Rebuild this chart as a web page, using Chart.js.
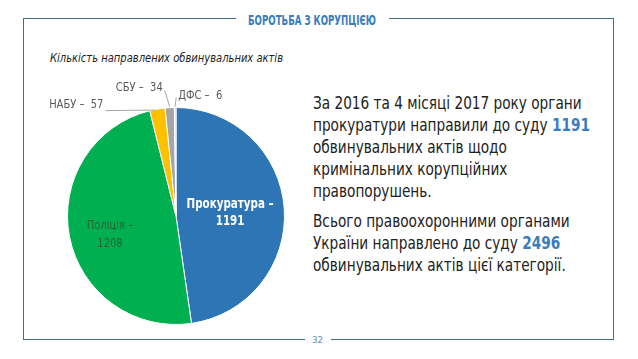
<!DOCTYPE html>
<html>
<head>
<meta charset="utf-8">
<script src="https://cdn.jsdelivr.net/npm/chart.js@4.4.0/dist/chart.umd.min.js"></script>
<style>
  html,body{margin:0;padding:0;background:#fff;}
  body{width:638px;height:359px;position:relative;overflow:hidden;font-family:'DejaVu Sans Condensed','Liberation Sans Narrow',sans-serif;}
  #frame{position:absolute;left:23px;top:18px;width:591px;height:322px;border:1.5px solid #3f6f86;box-sizing:border-box;}
  #tbox{position:absolute;left:236px;top:10px;width:153px;height:18px;background:#fff;}
  .fit{position:absolute;white-space:nowrap;transform-origin:0 0;}
  #title{left:248px;top:11px;color:#3a7cbc;font-size:14px;font-weight:bold;line-height:18px;}
  #pbox{position:absolute;left:305px;top:332px;width:26px;height:16px;background:#fff;}
  #pnum{left:312px;top:333px;color:#5a8fc0;font-size:9px;line-height:14px;}
  #sub{left:50px;top:50px;color:#222;font-size:13px;font-style:italic;line-height:16px;}
  #txt{left:313px;top:92px;color:#222;font-size:18px;line-height:22px;}
  #txt .gap{height:8px;}
  #txt b{color:#3a7cbc;}
  canvas{position:absolute;left:0;top:0;}
</style>
</head>
<body>
<div id="frame"></div>
<div id="tbox"></div>
<div id="title" class="fit" data-w="128">БОРОТЬБА З КОРУПЦІЄЮ</div>
<div id="pbox"></div>
<div id="pnum" class="fit" data-w="11">32</div>
<div id="sub" class="fit" data-w="233">Кількість направлених обвинувальних актів</div>
<div id="txt" class="fit" data-w="277">За 2016 та 4 місяці 2017 року органи<br>прокуратури направили до суду <b>1191</b><br>обвинувальних актів щодо<br>кримінальних корупційних<br>правопорушень.<div class="gap"></div>Всього правоохоронними органами<br>України направлено до суду <b>2496</b><br>обвинувальних актів цієї категорії.</div>
<canvas id="c" width="638" height="359"></canvas>
<script>
const categories = ['Прокуратура', 'Поліція', 'НАБУ', 'СБУ', 'ДФС'];
const values = [1191, 1208, 57, 34, 6];
const colors = ['#2e75b6', '#00b050', '#ffc000', '#a5a5a5', '#d0d0d0'];

document.querySelectorAll('.fit').forEach(el => {
  const w = el.getBoundingClientRect().width;
  const target = parseFloat(el.dataset.w);
  el.style.transform = 'scaleX(' + (target / w) + ')';
});

const FONT = "'DejaVu Sans Condensed','Liberation Sans Narrow',sans-serif";
function condText(ctx, s, x, y, align, sx) {
  ctx.save();
  ctx.translate(x, y);
  ctx.scale(sx, 1);
  ctx.textAlign = align;
  ctx.fillText(s, 0, 0);
  ctx.restore();
}

const labelPlugin = {
  id: 'sliceLabels',
  afterDatasetsDraw(chart) {
    const ctx = chart.ctx;
    const meta = chart.getDatasetMeta(0);
    ctx.save();
    ctx.textBaseline = 'middle';
    meta.data.forEach((arc, i) => {
      const mid = (arc.startAngle + arc.endAngle) / 2;
      const R = arc.outerRadius;
      const cx = arc.x, cy = arc.y;
      const txt = categories[i] + ' –';
      if (i === 0) {
        const px = cx + Math.cos(mid) * R * 0.5, py = cy + Math.sin(mid) * R * 0.5;
        ctx.fillStyle = '#ffffff';
        ctx.font = 'bold 14px ' + FONT;
        condText(ctx, txt, px, py - 8, 'center', 0.82);
        condText(ctx, String(values[i]), px, py + 9, 'center', 0.82);
      } else if (i === 1) {
        const px = cx + Math.cos(mid) * R * 0.62, py = cy + Math.sin(mid) * R * 0.62 + 6;
        ctx.fillStyle = '#2c5f38';
        ctx.font = '13px ' + FONT;
        condText(ctx, txt, px, py - 9, 'center', 0.85);
        condText(ctx, String(values[i]), px, py + 9, 'center', 0.85);
      } else {
        const ex = cx + Math.cos(mid) * R, ey = cy + Math.sin(mid) * R;
        ctx.strokeStyle = '#a6a6a6';
        ctx.lineWidth = 1;
        ctx.fillStyle = '#595959';
        ctx.font = '13px ' + FONT;
        const s = txt + '  ' + values[i];
        ctx.beginPath();
        if (i === 2) {
          ctx.moveTo(ex - 2, ey + 1); ctx.lineTo(ex - 52, ey + 1.5);
          ctx.stroke();
          condText(ctx, s, ex - 54, ey - 4, 'right', 0.85);
        } else if (i === 3) {
          ctx.moveTo(ex, ey - 1); ctx.lineTo(ex - 5, ey - 17);
          ctx.stroke();
          condText(ctx, s, ex - 7, ey - 20, 'right', 0.85);
        } else {
          ctx.moveTo(ex, ey - 1); ctx.lineTo(ex + 1, ey - 10);
          ctx.stroke();
          condText(ctx, s, ex + 3, ey - 12, 'left', 0.85);
        }
      }
    });
    ctx.restore();
  }
};

new Chart(document.getElementById('c'), {
  type: 'pie',
  data: {
    labels: categories,
    datasets: [{ data: values, backgroundColor: colors, borderColor: '#ffffff', borderWidth: 1 }]
  },
  options: {
    responsive: false,
    animation: false,
    layout: { padding: { left: 67, right: 353, top: 107, bottom: 34 } },
    plugins: { legend: { display: false }, tooltip: { enabled: false } }
  },
  plugins: [labelPlugin]
});
</script>
</body>
</html>
